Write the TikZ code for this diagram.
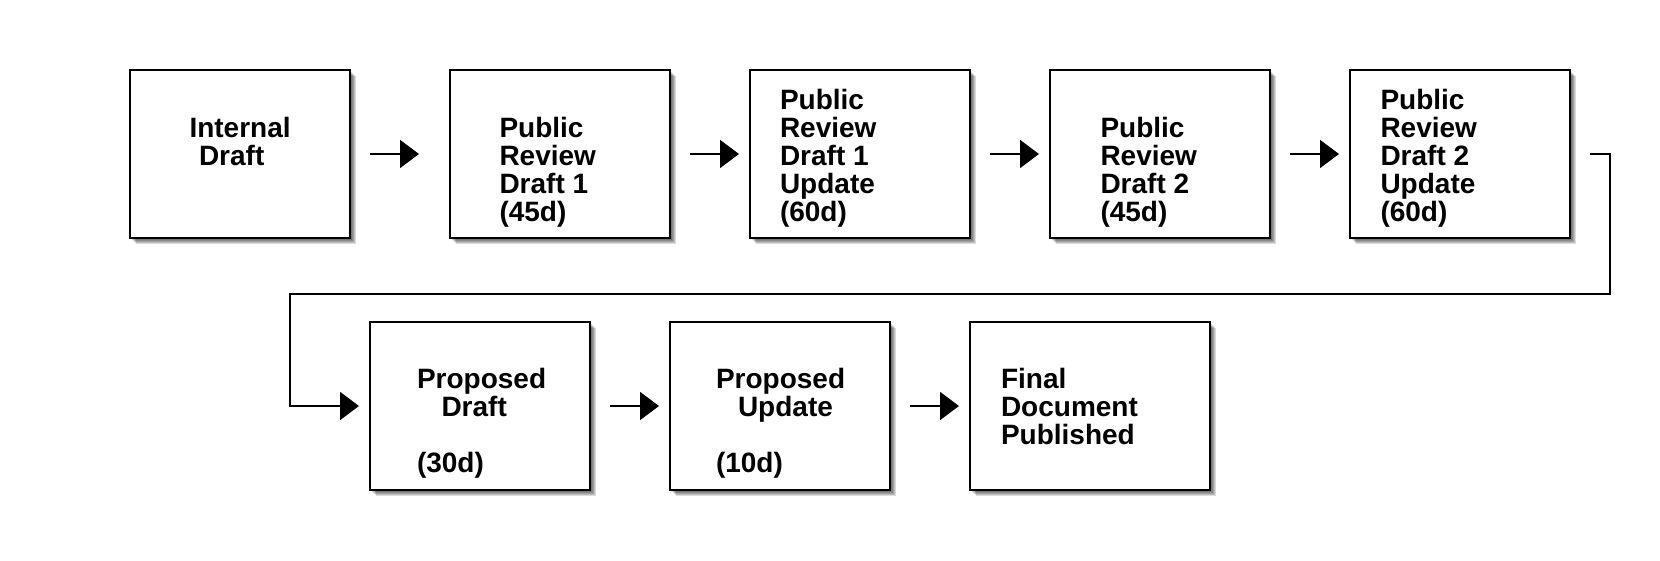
\documentclass[tikz,border=0pt]{standalone}
\usepackage{fontspec}
\setmainfont{Liberation Sans}
\usetikzlibrary{arrows.meta,shadows}

% stacked, left-aligned lines with a fixed line pitch; baseline = first line
\newcommand\boxlines[1]{\vtop{\baselineskip=28pt\lineskiplimit=-100pt\lineskip=0pt\let\\\cr\halign{##\hfil\cr#1\crcr}}}

\begin{document}
\begin{tikzpicture}[x=1pt,y=-1pt,
  shadowpart/.style={general shadow={shadow xshift=#1, shadow yshift=-#1, fill=black, opacity=0.14}},
  box/.style={draw, line width=2pt, fill=white, inner sep=0pt, outer sep=0pt,
    minimum width=220pt, minimum height=168pt, anchor=north west,
    shadowpart=2pt, shadowpart=3pt, shadowpart=4pt, shadowpart=5pt, shadowpart=6pt},
  txt/.style={anchor=base west, inner sep=0pt, outer sep=0pt,
    font=\fontsize{28}{28}\selectfont\bfseries},
  flow/.style={line width=1.8pt, -{Triangle[length=19pt,width=28pt]}}]

\fill[white] (0,0) rectangle (1660,560);
\useasboundingbox (0,0) rectangle (1660,560);

% first row of stages
\node[box] (b1) at (130,70) {};
\node[box] (b2) at (450,70) {};
\node[box] (b3) at (750,70) {};
\node[box] (b4) at (1050,70) {};
\node[box] (b5) at (1350,70) {};
% second row of stages
\node[box] (b6) at (370,322) {};
\node[box] (b7) at (670,322) {};
\node[box, minimum width=240pt] (b8) at (970,322) {};

% stage captions
\node[txt] (t1) at (189.5,137.3) {\boxlines{Internal\\\hskip9.5pt Draft}};
\node[txt] (t2) at (499.5,137.3) {\boxlines{Public\\Review\\Draft 1\\(45d)}};
\node[txt] (t3) at (780,109.3) {\boxlines{Public\\Review\\Draft 1\\Update\\(60d)}};
\node[txt] (t4) at (1100.5,137.3) {\boxlines{Public\\Review\\Draft 2\\(45d)}};
\node[txt] (t5) at (1380.5,109.3) {\boxlines{Public\\Review\\Draft 2\\Update\\(60d)}};
\node[txt] (t6) at (417,388.3) {\boxlines{Proposed\\\hskip24.5pt Draft\\\\(30d)}};
\node[txt] (t7) at (716,388.3) {\boxlines{Proposed\\\hskip22pt Update\\\\(10d)}};
\node[txt] (t8) at (1001,388.3) {\boxlines{Final\\Document\\Published}};

% connectors
\draw[flow, shorten <=20pt, shorten >=31pt] (b1.east) -- (b2.west);
\draw[flow, shorten <=20pt, shorten >=11pt] (b2.east) -- (b3.west);
\draw[flow, shorten <=20pt, shorten >=11pt] (b3.east) -- (b4.west);
\draw[flow, shorten <=20pt, shorten >=11pt] (b4.east) -- (b5.west);

\coordinate (c1) at (1610,294);
\coordinate (c2) at (290,294);
\draw[flow, shorten <=20pt, shorten >=11pt] (b5.east) -| (c1) -- (c2) |- (b6.west);

\draw[flow, shorten <=20pt, shorten >=11pt] (b6.east) -- (b7.west);
\draw[flow, shorten <=20pt, shorten >=11pt] (b7.east) -- (b8.west);
\end{tikzpicture}
\end{document}
